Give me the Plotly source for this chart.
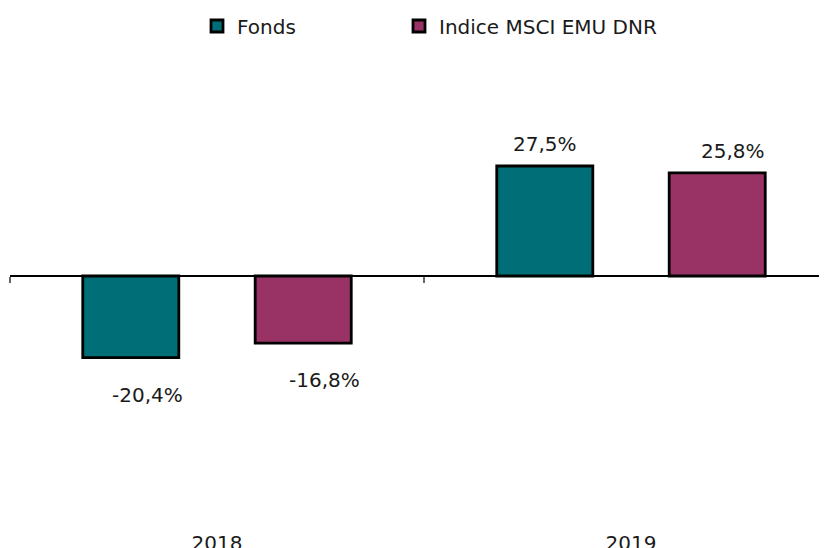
import plotly.graph_objects as go

years = ["2018", "2019"]
fonds = [-20.4, 27.5]
indice = [-16.8, 25.8]
series_names = ["Fonds", "Indice MSCI EMU DNR"]
colors = ["#006E76", "#993366"]

def fmt(v):
    return f"{v:.1f}".replace(".", ",") + "%"

FONT = "DejaVu Sans"
# the page body has an 8px margin: figure pixel = window pixel - 8
OFF = 8
W, H = 827 - OFF, 548 - OFF
top = 50 - OFF
bottom_px = 529 - OFF
zero_px = 276 - OFF
ml = 10 - OFF
px_per_unit = 4.0
plot_h = bottom_px - top
plot_w = W - ml
y_top = (zero_px - top) / px_per_unit
y_bot = -(bottom_px - zero_px) / px_per_unit
cat_px = 414.0

bargap = 0.167
bargroupgap = 0.443

legend_names = ["legend", "legend2"]
legend_left = [197 - OFF, 399 - OFF]

fig = go.Figure()
for name, vals, col, lg in zip(series_names, [fonds, indice], colors, legend_names):
    fig.add_trace(go.Bar(
        x=years, y=vals, name=name, legend=lg,
        marker=dict(color=col, line=dict(color="black", width=2.8)),
        xaxis="x", yaxis="y",
    ))
fig.add_trace(go.Scatter(x=years, y=[None, None], xaxis="x2", yaxis="y",
                         showlegend=False, hoverinfo="skip"))

slot = (1 - bargap) / 2
offsets = [-slot / 2, slot / 2]
neg_xshift = [17, 21]
pos_xshift = [0, 16]
for si, vals in enumerate([fonds, indice]):
    for ci, v in enumerate(vals):
        fig.add_annotation(
            x=ci + offsets[si], y=v, xref="x", yref="y",
            text=fmt(v), showarrow=False,
            xshift=neg_xshift[si] if v < 0 else pos_xshift[si],
            yshift=22 if v > 0 else -37,
            font=dict(family=FONT, size=20, color="#1a1a1a"),
        )

def legend_cfg(left_px):
    return dict(orientation="h", x=(left_px - ml) / plot_w, xanchor="left",
                y=1 + (top - (26 - OFF)) / plot_h, yanchor="middle",
                font=dict(family=FONT, size=20, color="#1a1a1a"),
                itemwidth=30, bgcolor="rgba(0,0,0,0)")

x_range = [-0.5, -0.5 + plot_w / cat_px]
fig.update_layout(
    width=W, height=H,
    margin=dict(l=ml, r=0, t=top, b=H - bottom_px, autoexpand=False),
    paper_bgcolor="white", plot_bgcolor="white",
    barmode="group", bargap=bargap, bargroupgap=bargroupgap,
    font=dict(family=FONT, size=20, color="#1a1a1a"),
    showlegend=True,
    legend=legend_cfg(legend_left[0]),
    legend2=legend_cfg(legend_left[1]),
    xaxis=dict(type="category", range=x_range, anchor="free",
               position=(bottom_px - zero_px) / plot_h,
               showline=True, linecolor="black", linewidth=1.5,
               ticks="outside", tickson="boundaries", ticklen=6,
               tickcolor="#666666", tickwidth=1.5,
               showticklabels=False, showgrid=False, zeroline=False),
    xaxis2=dict(type="category", range=x_range, overlaying="x", anchor="y",
                side="bottom", showline=False, ticks="", showgrid=False,
                zeroline=False, tickfont=dict(family=FONT, size=20, color="#1a1a1a")),
    yaxis=dict(range=[y_bot, y_top], visible=False, showgrid=False, zeroline=False),
)

fig.write_html("out.html")
